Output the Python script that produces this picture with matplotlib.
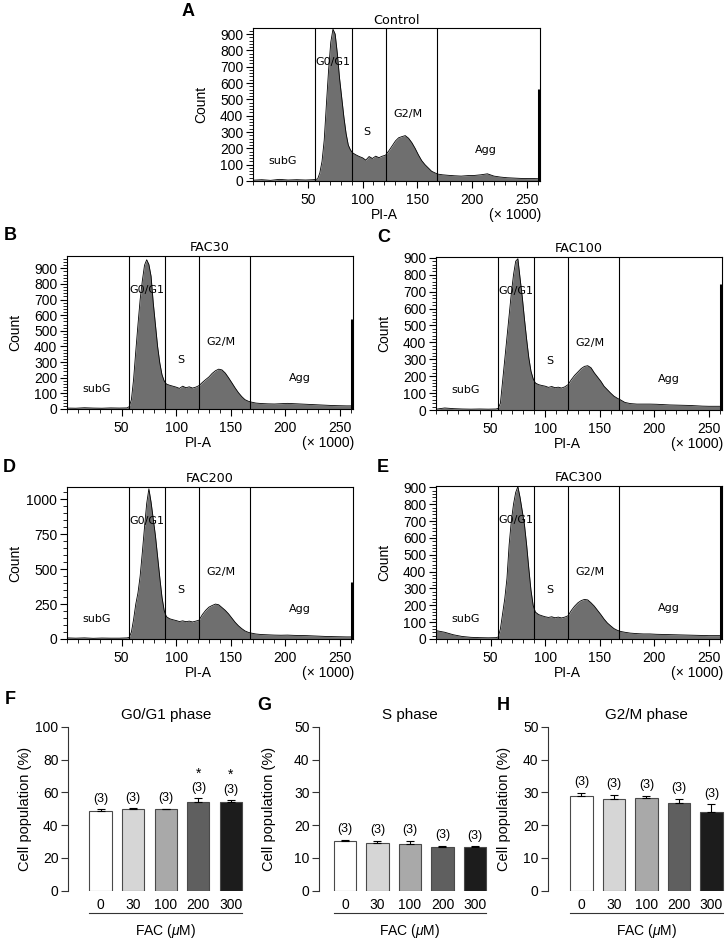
import matplotlib
matplotlib.use("Agg")
import matplotlib.pyplot as plt
from matplotlib.ticker import MultipleLocator

plt.rcParams['font.family'] = ['Liberation Sans', 'DejaVu Sans']
plt.rcParams['mathtext.fontset'] = 'custom'
plt.rcParams['mathtext.it'] = 'Liberation Sans:italic'
plt.rcParams['mathtext.rm'] = 'Liberation Sans'

# ---------------- data ----------------
PI_X = [0, 8, 16, 24, 32, 40, 48, 55, 57, 59, 61, 63, 65, 67, 69, 71, 73, 75, 77, 79,
        81, 83, 85, 87, 89, 91, 94, 97, 100, 103, 106, 109, 112, 115, 118, 121, 124,
        127, 130, 133, 136, 139, 142, 145, 148, 151, 154, 157, 160, 163, 166, 169, 173,
        178, 184, 190, 196, 202, 208, 214, 220, 226, 232, 238, 244, 250, 256, 261]

COUNT_CONTROL = [5, 8, 4, 10, 6, 8, 6, 8, 10, 12, 50, 120, 250, 470, 680, 850, 930, 900, 780, 630,
                 510, 390, 290, 220, 190, 172, 160, 150, 142, 128, 150, 138, 152, 143, 152, 158, 185,
                 215, 245, 265, 272, 278, 262, 235, 200, 160, 125, 100, 80, 60, 50, 42, 38,
                 35, 32, 30, 33, 34, 38, 44, 30, 24, 20, 18, 16, 15, 15, 14]
COUNT_FAC30 = [6, 5, 8, 6, 5, 7, 6, 7, 15, 60, 190, 370, 540, 700, 820, 920, 955, 925, 850, 680,
               540, 400, 295, 220, 180, 160, 152, 146, 140, 132, 146, 136, 142, 134, 140, 150, 170,
               188, 205, 228, 245, 255, 250, 230, 200, 168, 135, 105, 80, 60, 50, 44, 38,
               35, 33, 32, 34, 36, 34, 32, 30, 28, 26, 24, 22, 21, 20, 20]
COUNT_FAC100 = [5, 12, 8, 6, 5, 6, 5, 6, 10, 40, 170, 300, 430, 560, 690, 800, 880, 895, 780, 670,
                540, 420, 310, 230, 185, 160, 150, 145, 141, 134, 139, 132, 135, 130, 137, 150, 180,
                205, 225, 245, 258, 262, 250, 220, 195, 170, 140, 120, 100, 82, 70, 60, 45,
                38, 35, 35, 35, 34, 32, 30, 29, 28, 27, 25, 23, 22, 22, 22]
COUNT_FAC200 = [8, 6, 8, 5, 7, 6, 6, 8, 12, 50, 140, 250, 330, 450, 620, 800, 970, 1075, 980, 860,
                740, 590, 440, 300, 205, 160, 145, 138, 132, 125, 130, 124, 128, 122, 128, 135, 175,
                205, 228, 240, 250, 245, 225, 205, 180, 150, 120, 95, 75, 58, 48, 42, 36,
                32, 30, 28, 27, 28, 26, 25, 24, 22, 20, 18, 17, 16, 15, 15]
COUNT_FAC300 = [50, 40, 25, 15, 10, 8, 7, 8, 12, 60, 150, 240, 360, 560, 700, 800, 870, 905, 840, 760,
                680, 560, 420, 290, 200, 160, 145, 138, 132, 128, 132, 126, 130, 125, 130, 138, 170,
                195, 215, 228, 235, 232, 215, 195, 170, 145, 118, 95, 78, 62, 52, 45, 40,
                35, 32, 30, 30, 28, 27, 26, 25, 24, 23, 22, 21, 20, 20, 20]
OVERFLOW = [561, 576, 745, 411, 920]

SAMPLES = ['Control', 'FAC30', 'FAC100', 'FAC200', 'FAC300']
GATES = [57, 90, 121, 168]
GATE_LABELS = ['subG', 'G0/G1', 'S', 'G2/M', 'Agg']

DOSES = ['0', '30', '100', '200', '300']
G0G1_MEAN = [48.6, 49.6, 49.6, 54.3, 54.3]
G0G1_SEM = [1.2, 0.6, 0.4, 2.0, 1.0]
S_MEAN = [15.2, 14.5, 14.3, 13.2, 13.3]
S_SEM = [0.4, 0.7, 0.9, 0.5, 0.2]
G2M_MEAN = [28.8, 28.0, 28.2, 26.6, 24.1]
G2M_SEM = [1.1, 1.3, 0.8, 1.5, 2.2]
N_LABELS = ['(3)', '(3)', '(3)', '(3)', '(3)']
G0G1_SIG = ['', '', '', '*', '*']
S_SIG = ['', '', '', '', '']
G2M_SIG = ['', '', '', '', '']
BAR_COLORS = ['#ffffff', '#d6d6d6', '#a9a9a9', '#5f5f5f', '#1c1c1c']

# ---------------- layout ----------------
W, H = 728, 939
fig = plt.figure(figsize=(W / 100, H / 100), dpi=100)


def rect(l, r, t, b):
    return [l / W, 1 - b / H, (r - l) / W, (b - t) / H]


def letter(x, y, s):
    fig.text(x / W, 1 - y / H, s, fontsize=13, fontweight='bold', ha='center', va='center')


FACS_FONT = ['DejaVu Sans']

hist_specs = [
    # l, r, t, b, ymax, major, minor
    (253, 540, 28, 181, 937, 100, 20),
    (67, 353, 256, 409, 979, 100, 20),
    (436, 722, 257, 410, 905, 100, 20),
    (67, 353, 487, 639, 1088, 250, 50),
    (436, 722, 486, 639, 908, 100, 20),
]
hist_counts = [COUNT_CONTROL, COUNT_FAC30, COUNT_FAC100, COUNT_FAC200, COUNT_FAC300]
label_x = [27, 73, 104, 141, 213]
label_y = [0.13, 0.775, 0.32, 0.44, 0.2]

for i, (l, r, t, b, ymax, maj, mnr) in enumerate(hist_specs):
    ax = fig.add_axes(rect(l, r, t, b))
    cnt = hist_counts[i]
    ax.fill_between(PI_X, cnt, 0, color='#6f6f6f', linewidth=0)
    ax.plot(PI_X, cnt, color='black', lw=0.6)
    ax.plot([261.3, 261.3], [0, OVERFLOW[i]], color='black', lw=2.2, solid_capstyle='butt')
    for g in GATES:
        ax.axvline(g, color='black', lw=0.8)
    for lx, ly, s in zip(label_x, label_y, GATE_LABELS):
        ax.text(lx, ly, s, transform=ax.get_xaxis_transform(), ha='center', va='center',
                fontsize=8, family=FACS_FONT)
    ax.set_xlim(0, 262)
    ax.set_ylim(0, ymax)
    ax.yaxis.set_major_locator(MultipleLocator(maj))
    ax.yaxis.set_minor_locator(MultipleLocator(mnr))
    ax.xaxis.set_minor_locator(MultipleLocator(10))
    ax.set_xticks([50, 100, 150, 200, 250])
    ax.tick_params(axis='both', which='major', direction='out', length=5, width=0.8,
                   labelsize=10, pad=2)
    ax.tick_params(axis='x', which='major', pad=3.5)
    ax.tick_params(axis='both', which='minor', direction='out', length=3, width=0.6)
    for sp in ax.spines.values():
        sp.set_linewidth(0.8)
    ax.set_ylabel('Count', fontsize=10)
    ax.yaxis.set_label_coords(-45 / (r - l), 0.5)
    ax.text(0.5, 1 + 8 / (b - t), SAMPLES[i], transform=ax.transAxes, ha='center',
            va='center', fontsize=9.2, family=FACS_FONT)
    ax.text(120, -34 / (b - t), 'PI-A', transform=ax.get_xaxis_transform(), ha='center',
            va='center', fontsize=10)
    ax.text(1.005, -34 / (b - t), '(× 1000)', transform=ax.transAxes, ha='right',
            va='center', fontsize=10)

letter(188, 12, 'A')
letter(10, 236, 'B')
letter(384, 237, 'C')
letter(9, 467, 'D')
letter(383, 467, 'E')

# ---------------- bar charts ----------------
bar_specs = [
    (68.3, 726.7, 890.7, (-0.99, 4.5), 32.6, 100, 20, 'G0/G1 phase', G0G1_MEAN, G0G1_SEM, G0G1_SIG, 36),
    (319.3, 726.7, 890.7, (-0.79, 4.5), 32.5, 50, 10, 'S phase', S_MEAN, S_SEM, S_SIG, 43),
    (548.3, 726.7, 890.7, (-1.02, 4.5), 32.5, 50, 10, 'G2/M phase', G2M_MEAN, G2M_SEM, G2M_SIG, 37),
]
for (l, t, b, xl, step, ymax, ystep, title, mean, sem, sig, lab_off) in bar_specs:
    r = l + (xl[1] - xl[0]) * step
    ax = fig.add_axes(rect(l, r, t, b))
    xs = list(range(len(DOSES)))
    ax.bar(xs, mean, width=0.68, color=BAR_COLORS, edgecolor='#4a4a4a', linewidth=0.8, zorder=2)
    ax.errorbar(xs, mean, yerr=[[0] * len(sem), sem], fmt='none', ecolor='black',
                elinewidth=0.8, capsize=3.2, capthick=0.8, zorder=3)
    for x, m, e, n, s in zip(xs, mean, sem, N_LABELS, sig):
        ax.annotate(n, (x, m + e), xytext=(0, 7.5), textcoords='offset points',
                    ha='center', va='center', fontsize=9)
        if s:
            ax.annotate(s, (x, m + e), xytext=(0, 18), textcoords='offset points',
                        ha='center', va='center', fontsize=10)
    ax.set_xlim(*xl)
    ax.set_ylim(0, ymax)
    ax.set_yticks(range(0, ymax + 1, ystep))
    ax.set_xticks(xs)
    ax.set_xticklabels(DOSES)
    for sp in ['top', 'right', 'bottom']:
        ax.spines[sp].set_visible(False)
    ax.spines['left'].set_linewidth(0.8)
    ax.spines['left'].set_color('#333333')
    ax.tick_params(axis='y', direction='out', length=5, width=0.8, labelsize=10, pad=2,
                   color='#333333')
    ax.tick_params(axis='x', length=0, labelsize=10, pad=5)
    ax.set_ylabel('Cell population (%)', fontsize=10.5)
    ax.yaxis.set_label_coords(-lab_off / (r - l), 0.5)
    ax.text(2, 1 + 12 / (b - t), title, ha='center', va='center', fontsize=11,
            transform=ax.get_xaxis_transform())
    ax.plot([-0.34, 4.34], [-22 / (b - t)] * 2, color='#333333', lw=0.8,
            transform=ax.get_xaxis_transform(), clip_on=False)
    ax.text(2, -40 / (b - t), 'FAC ($\\mu$M)', ha='center', va='center', fontsize=10,
            transform=ax.get_xaxis_transform())

letter(10, 700, 'F')
letter(264, 705, 'G')
letter(503, 705, 'H')

fig.savefig('out.png', dpi=100)
